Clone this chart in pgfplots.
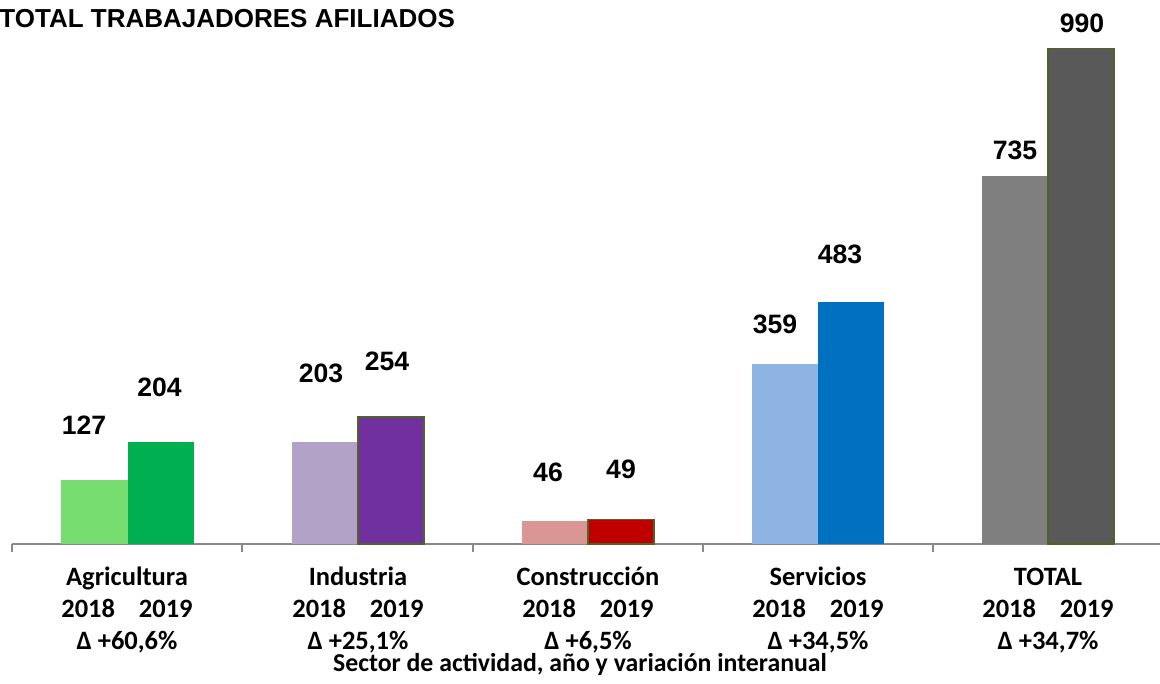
\documentclass[border=0pt]{standalone}
\usepackage{fontspec}
\setmainfont{Carlito}
\newfontfamily\arial{Liberation Sans}
\usepackage{pgfplots}
\pgfplotsset{compat=1.18}
\definecolor{agriA}{HTML}{77DC70}
\definecolor{agriB}{HTML}{00B050}
\definecolor{indA}{HTML}{B3A2C7}
\definecolor{indB}{HTML}{7030A0}
\definecolor{consA}{HTML}{D99694}
\definecolor{consB}{HTML}{C00000}
\definecolor{servA}{HTML}{8EB4E3}
\definecolor{servB}{HTML}{0070C0}
\definecolor{totA}{HTML}{7F7F7F}
\definecolor{totB}{HTML}{595959}
\definecolor{edge}{HTML}{4F6228}
\definecolor{axisgray}{HTML}{898989}
% category label: sector, years, variation
\newcommand{\lab}[2]{\strut #1\\\strut 2018\hspace{0.9em}2019\\\strut Δ #2}

\begin{document}
\begin{tikzpicture}
\begin{axis}[
    at={(0,0)}, anchor=south west,
    scale only axis,
    width=574pt, height=272pt,
    xmin=12, xmax=1160, ymin=0, ymax=1086.5,
    axis x line*=bottom, axis y line=none,
    x axis line style={draw=axisgray, line width=1pt},
    clip=false,
    xtick={127,358,588,818,1048},
    xticklabels={
      {\lab{Agricultura}{+60,6\%}},
      {\lab{Industria}{+25,1\%}},
      {\lab{Construcción}{+6,5\%}},
      {\lab{Servicios}{+34,5\%}},
      {\lab{TOTAL}{+34,7\%}}},
    major tick length=0pt,
    xticklabel style={font=\fontsize{13.25}{16.1}\selectfont\bfseries,
      align=center, anchor=north, yshift=-5.9pt},
    extra x ticks={12,242,473,703,933},
    extra x tick labels={},
    extra x tick style={major tick length=4pt, tick align=outside,
      tick style={draw=axisgray, line width=0.75pt}},
]
% 2018 bars
\addplot[ybar, bar width=66, bar shift=0pt, fill=agriA, draw=none] coordinates {(94.5,127)};
\addplot[ybar, bar width=66, bar shift=0pt, fill=indA, draw=none] coordinates {(325,203)};
\addplot[ybar, bar width=66, bar shift=0pt, fill=consA, draw=none] coordinates {(555,46)};
\addplot[ybar, bar width=66, bar shift=0pt, fill=servA, draw=none] coordinates {(785,359)};
\addplot[ybar, bar width=66, bar shift=0pt, fill=totA, draw=none] coordinates {(1015,735)};
% 2019 bars
\addplot[ybar, bar width=66, bar shift=0pt, fill=agriB, draw=none] coordinates {(161,204)};
\addplot[ybar, bar width=66, bar shift=0pt, fill=indB, draw=edge, line width=0.75pt] coordinates {(391,254)};
\addplot[ybar, bar width=66, bar shift=0pt, fill=consB, draw=edge, line width=0.75pt] coordinates {(621,49)};
\addplot[ybar, bar width=66, bar shift=0pt, fill=servB, draw=none] coordinates {(851,483)};
\addplot[ybar, bar width=66, bar shift=0pt, fill=totB, draw=edge, line width=0.75pt] coordinates {(1081,990)};
% value labels
\addplot[only marks, mark=none, nodes near coords, point meta=explicit symbolic,
  nodes near coords style={anchor=center, inner sep=0pt,
    font=\arial\bfseries\fontsize{13.3}{15}\selectfont}]
  coordinates {(84,237.7)[127] (159.5,313.6)[204] (321,341.5)[203] (387,365.5)[254]
    (548,143.8)[46] (621,148.8)[49] (775,439.4)[359] (840,579.2)[483]
    (1015,786.9)[735] (1082,1039.6)[990]};
\node[anchor=base west, inner sep=0pt, font=\arial\bfseries\fontsize{13}{15}\selectfont]
  at (axis cs:-1,1031) {TOTAL TRABAJADORES AFILIADOS};
\node[anchor=base, inner sep=0pt, font=\fontsize{12.9}{15}\selectfont\bfseries]
  at (axis cs:580,-255) {Sector de actividad, año y variación interanual};
\coordinate (bl) at (axis cs:0,-279.6);
\coordinate (tr) at (axis cs:1160,1086.5);
\end{axis}
\pgfresetboundingbox
\path[use as bounding box] (bl) rectangle (tr);
\end{tikzpicture}
\end{document}
